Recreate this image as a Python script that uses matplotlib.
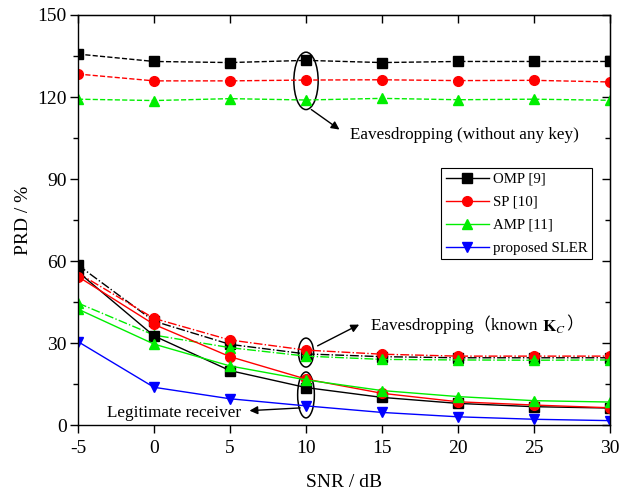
import matplotlib
matplotlib.use("Agg")
import matplotlib.pyplot as plt
from matplotlib.patches import Ellipse
from matplotlib.ticker import MultipleLocator, NullFormatter

plt.rcParams['font.family'] = ['Liberation Serif', 'Noto Sans CJK SC']
plt.rcParams['mathtext.fontset'] = 'stix'
plt.rcParams['axes.unicode_minus'] = False

snr = [-5, 0, 5, 10, 15, 20, 25, 30]

# Eavesdropping without any key (dashed)
omp_nokey = [135.7, 133.0, 132.6, 133.4, 132.6, 133.0, 133.0, 133.0]
sp_nokey = [128.4, 125.9, 125.9, 126.2, 126.3, 126.0, 126.1, 125.5]
amp_nokey = [119.2, 118.7, 119.4, 118.9, 119.5, 119.0, 119.2, 118.8]

# Eavesdropping known Kc (dash-dot)
omp_kc = [58.5, 38.0, 29.5, 26.0, 25.0, 24.6, 24.6, 24.6]
sp_kc = [55.6, 39.0, 31.1, 27.4, 25.9, 25.2, 25.2, 25.2]
amp_kc = [44.6, 32.9, 28.3, 25.2, 24.0, 23.8, 23.7, 23.8]

# Legitimate receiver (solid)
omp_leg = [56.0, 32.6, 19.9, 13.7, 10.1, 7.9, 6.7, 6.2]
sp_leg = [54.3, 36.8, 25.0, 16.8, 11.6, 8.5, 7.3, 6.3]
amp_leg = [42.4, 29.6, 21.6, 16.5, 12.6, 10.4, 8.9, 8.4]
sler_leg = [30.5, 13.8, 9.6, 7.0, 4.6, 3.0, 2.1, 1.6]

labels = ['OMP [9]', 'SP [10]', 'AMP [11]', 'proposed SLER']

fig = plt.figure(figsize=(6.19, 4.95), dpi=100)
ax = fig.add_axes([0.126, 0.1414, 0.8595, 0.8283])

ms = 7
lw = 1.0
ax.plot(snr, omp_nokey, 'k--s', ms=ms, lw=lw)
ax.plot(snr, sp_nokey, '--o', color='#ff0000', ms=ms, lw=lw)
ax.plot(snr, amp_nokey, '--^', color='#00ee00', ms=ms, lw=lw)

ax.plot(snr, omp_kc, 'k-.s', ms=ms, lw=lw)
ax.plot(snr, sp_kc, '-.o', color='#ff0000', ms=ms, lw=lw)
ax.plot(snr, amp_kc, '-.^', color='#00ee00', ms=ms, lw=lw)

l1, = ax.plot(snr, omp_leg, 'k-s', ms=ms, lw=lw, label=labels[0])
l2, = ax.plot(snr, sp_leg, '-o', color='#ff0000', ms=ms, lw=lw, label=labels[1])
l3, = ax.plot(snr, amp_leg, '-^', color='#00ee00', ms=ms, lw=lw, label=labels[2])
l4, = ax.plot(snr, sler_leg, '-v', color='#0000ff', ms=ms, lw=lw, label=labels[3])

ax.set_xlim(-5, 30)
ax.set_ylim(0, 150)
ax.xaxis.set_major_locator(MultipleLocator(5))
ax.yaxis.set_major_locator(MultipleLocator(30))
ax.yaxis.set_minor_locator(MultipleLocator(15))
ax.tick_params(which='both', direction='out', labelsize=14)
ax.tick_params(which='major', length=6, width=1.0)
ax.tick_params(which='minor', length=3.5, width=1.0)
ax.tick_params(axis='x', which='major', pad=5)
ax.tick_params(axis='y', which='major', pad=2)
ax.tick_params(axis='x', which='minor', top=False, bottom=False)
for s in ax.spines.values():
    s.set_linewidth(1.0)

# mirrored inward ticks on top and right
top = ax.secondary_xaxis('top')
top.xaxis.set_major_locator(MultipleLocator(5))
top.xaxis.set_major_formatter(NullFormatter())
top.tick_params(direction='in', length=6, width=1.0)
right = ax.secondary_yaxis('right')
right.yaxis.set_major_locator(MultipleLocator(30))
right.yaxis.set_minor_locator(MultipleLocator(15))
right.yaxis.set_major_formatter(NullFormatter())
right.tick_params(which='major', direction='in', length=6, width=1.0)
right.tick_params(which='minor', direction='in', length=3.5, width=1.0)

ax.set_xlabel('SNR / dB', fontsize=14, labelpad=12)
ax.set_ylabel('PRD / %', fontsize=14, labelpad=4)

leg = ax.legend(handles=[l1, l2, l3, l4], loc='upper right',
                bbox_to_anchor=(0.966, 0.627), fontsize=10.7,
                fancybox=False, edgecolor='black', framealpha=1,
                handlelength=2.9, borderpad=0.3, labelspacing=0.65,
                handletextpad=0.25, borderaxespad=0)
leg.get_frame().set_linewidth(0.8)

# Ellipses
ax.add_patch(Ellipse((10, 125.9), 1.6, 21, fill=False, lw=1.1, ec='black'))
ax.add_patch(Ellipse((10, 26.5), 1.0, 10.6, fill=False, lw=1.1, ec='black'))
ax.add_patch(Ellipse((10, 11.0), 1.1, 16.8, fill=False, lw=1.1, ec='black'))

arrow = dict(arrowstyle='-|>', color='black', lw=1.0, mutation_scale=12)
ax.annotate('', xy=(12.35, 107.5), xytext=(10.2, 116.0), arrowprops=arrow)
ax.text(12.9, 106.1, 'Eavesdropping (without any key)', fontsize=12.3, va='center')

ax.annotate('', xy=(13.66, 37.2), xytext=(10.6, 28.5), arrowprops=arrow)
t1 = ax.text(14.3, 36.6, 'Eavesdropping（known ', fontsize=12.3, va='center')
t2 = ax.annotate('$\\mathbf{K}_{C}$', xy=(1.0, 0.5), xycoords=t1,
                 xytext=(0, -1.5), textcoords='offset points',
                 fontsize=12.3, va='center', ha='left')
ax.annotate('）', xy=(1.0, 0.5), xycoords=t2, xytext=(0, 1.5),
            textcoords='offset points', fontsize=12.3, va='center', ha='left')

ax.annotate('', xy=(6.1, 5.2), xytext=(9.8, 6.3), arrowprops=arrow)
ax.text(5.7, 4.4, 'Legitimate receiver', fontsize=12.3, va='center', ha='right')

fig.savefig('out.png', dpi=100)
